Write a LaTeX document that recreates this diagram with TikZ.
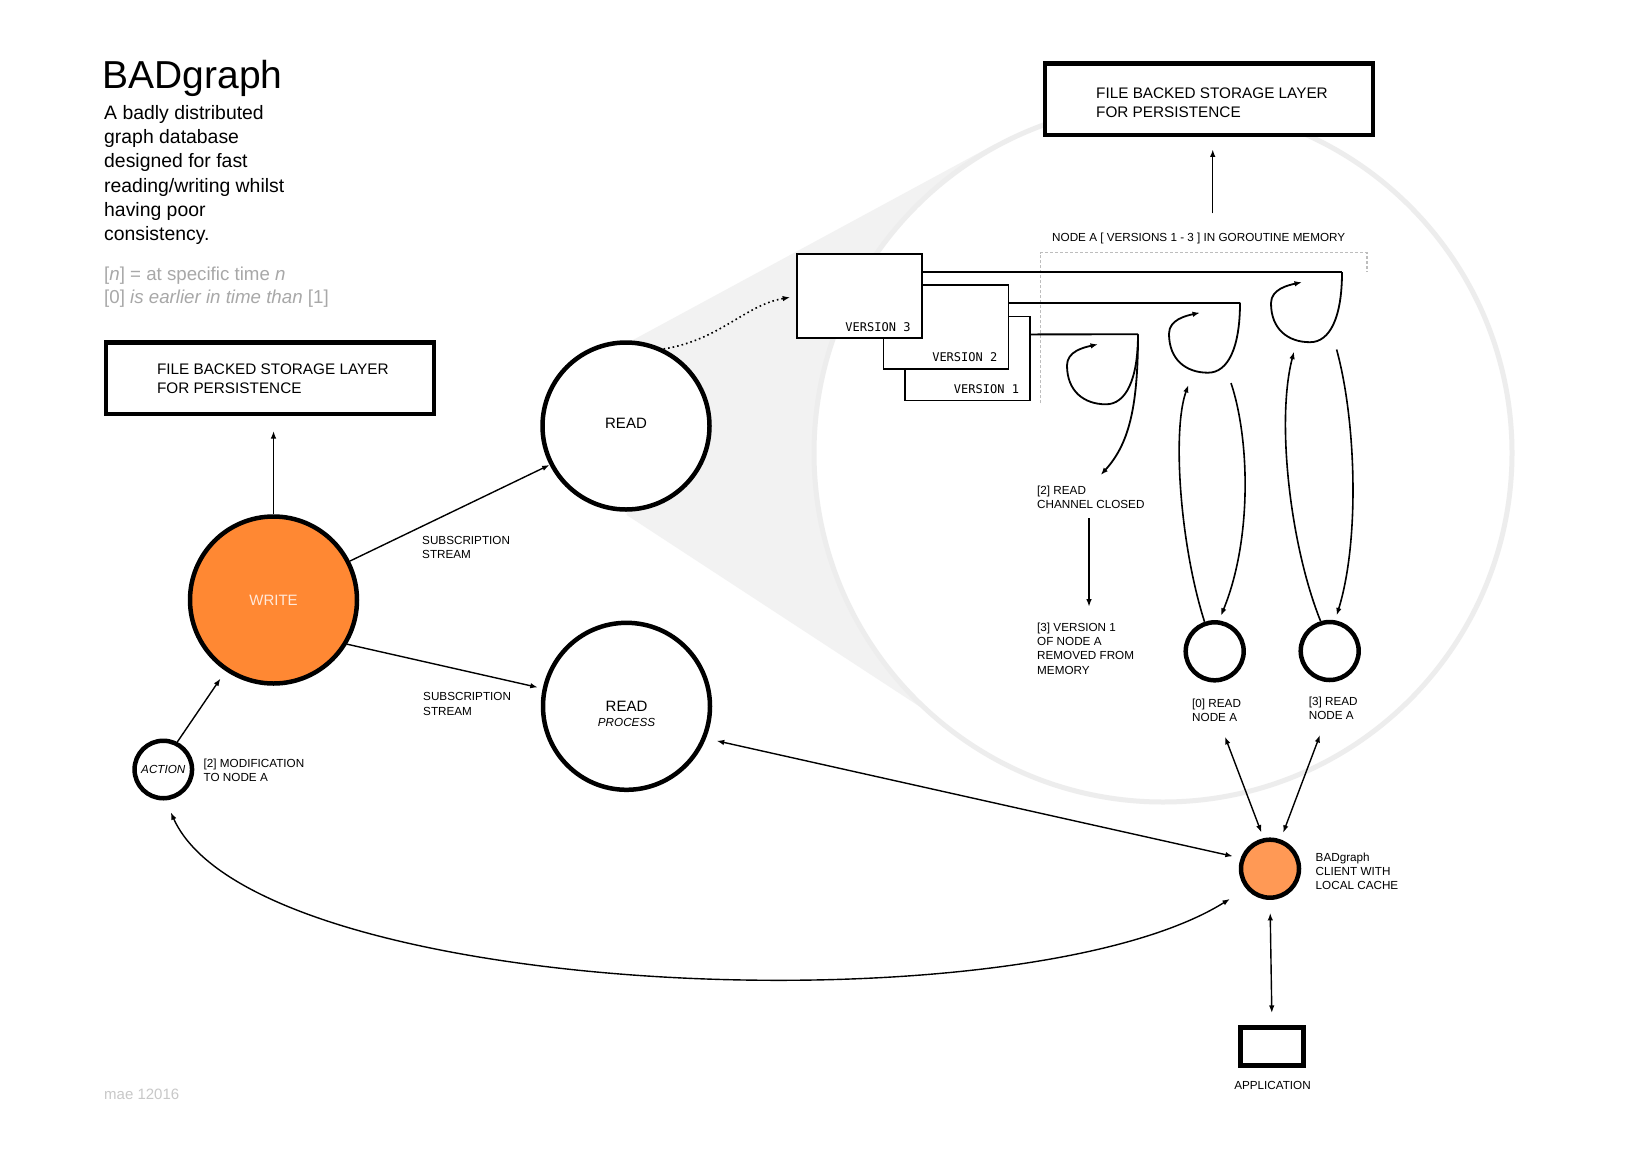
\documentclass[tikz,border=0pt]{standalone}
\usepackage{fontspec}
\setmainfont{Liberation Sans}
\newfontfamily\vermono{DejaVu Sans Mono}
\usetikzlibrary{arrows.meta}
\newcommand\fsz[2]{\fontsize{#1pt}{#2pt}\selectfont}
\definecolor{writeorange}{HTML}{FF8833}
\definecolor{clientorange}{HTML}{FF9955}
\definecolor{conegray}{HTML}{F2F2F2}
\definecolor{ringgray}{HTML}{EDEDED}
\definecolor{notegray}{HTML}{A8A8A8}
\definecolor{signgray}{HTML}{C8C8C8}
\definecolor{bracketgray}{HTML}{BDBDBD}
\definecolor{writetext}{HTML}{FFE9DA}

\begin{document}
\begin{tikzpicture}[x=1pt,y=-1pt,
  ah/.tip={Latex[length=7.5pt,width=5.5pt]},
  bigcirc/.style={circle,draw,line width=4.5pt,fill=white,minimum size=167pt,inner sep=0pt,font=\fsz{15}{18}},
  smallcirc/.style={circle,draw,line width=4.5pt,fill=white,minimum size=58pt,inner sep=0pt},
  storebox/.style={draw,line width=4.5pt,fill=white,minimum width=328pt,minimum height=71.5pt,inner sep=0pt},
  storetxt/.style={inner sep=0pt,anchor=north west,align=left,font=\fsz{15.3}{18.8}},
  verbox/.style={draw,line width=1.8pt,fill=white,minimum width=125pt,minimum height=84pt,inner sep=0pt,outer sep=0pt},
  verlbl/.style={inner sep=0pt,anchor=base east,font=\vermono\fsz{12}{14}},
  lbl/.style={inner sep=0pt,anchor=north west,align=left,font=\fsz{11.7}{14.3}},
  conn/.style={line width=1.4pt,-ah},
  biconn/.style={line width=1.4pt,ah-ah},
  thread/.style={line width=1.8pt},
  curl/.pic={\draw[thread,-ah] (0,0) .. controls (0,45) and (-12,70) .. (-32,70)
      .. controls (-54,70) and (-71,57) .. (-71,31)
      .. controls (-71,17) and (-54,13) .. (-40,10);}
]
\useasboundingbox (0,0) rectangle (1636,1157);
\fill[white] (0,0) rectangle (1636,1157);

% magnifying cone and the zoomed-in disk
\fill[conegray] (633,340) -- (995.7,143.8) -- (974,742.1) -- (626.7,515) -- cycle;
\node[circle,draw=ringgray,line width=5pt,fill=white,minimum size=698pt,inner sep=0pt] (zoomdisk) at (1163,453) {};

% title and notes
\node[anchor=base west,inner sep=0pt,font=\fsz{39}{46}] (title) at (102.3,88.3) {BADgraph};
\node[anchor=north west,inner sep=0pt,align=left,font=\fsz{19.4}{24.3}] (desc) at (104,105)
  {A badly distributed\\graph database\\designed for fast\\reading/writing whilst\\having poor\\consistency.};
\node[anchor=north west,inner sep=0pt,align=left,font=\fsz{18.7}{23.5},text=notegray] (legend) at (104,266.5)
  {[\textit{n}] = at specific time \textit{n}\\{}[0] \textit{is earlier in time than} [1]};
\node[anchor=base west,inner sep=0pt,font=\fsz{15}{18},text=signgray] (sign) at (104,1099) {mae 12016};

% storage layers
\node[storebox] (storeL) at (270.2,378) {};
\node[storetxt] (storeLtxt) at (156.8,363.8) {FILE BACKED STORAGE LAYER\\FOR PERSISTENCE};
\node[storebox] (storeR) at (1209.2,99.4) {};
\node[storetxt] (storeRtxt) at (1096,87.7) {FILE BACKED STORAGE LAYER\\FOR PERSISTENCE};

% main processes
\node[bigcirc,fill=writeorange,text=writetext] (write) at (273.5,600) {WRITE};
\node[bigcirc] (read) at (626,426) {};
\node[anchor=base,inner sep=0pt,font=\fsz{15}{18}] (readtxt) at (626,428) {READ};
\node[bigcirc] (rp) at (626.5,706.3) {};
\node[anchor=base,inner sep=0pt,font=\fsz{15}{18}] (rptxt) at (626.5,711.8) {READ};
\node[anchor=base,inner sep=0pt,font=\fsz{11.7}{14}\itshape] (rpsub) at (626.5,726.2) {PROCESS};
\node[circle,draw,line width=4.5pt,fill=white,minimum size=57.5pt,inner sep=0pt,font=\fsz{11.7}{14}\itshape] (action) at (163.3,769.5) {ACTION};

% goroutine memory bracket
\draw[bracketgray,line width=1.2pt,dash pattern=on 3pt off 2pt] (1040.7,403) -- (1040.7,252.7) -- (1367,252.7) -- (1367,272);
\node[lbl] (memlbl) at (1052,232.5) {NODE A [ VERSIONS 1 - 3 ] IN GOROUTINE MEMORY};

% version stack
\node[verbox] (v1) at (967.7,358.4) {};
\node[verbox] (v2) at (946,327) {};
\node[verbox] (v3) at (859.2,296.2) {};
\node[verlbl] (v1t) at ([shift={(-11,-7)}]v1.south east) {VERSION 1};
\node[verlbl] (v2t) at ([shift={(-11,-7.5)}]v2.south east) {VERSION 2};
\node[verlbl] (v3t) at ([shift={(-11,-7)}]v3.south east) {VERSION 3};

% channel corners
\coordinate (k1) at (1138,334.3);
\coordinate (k2) at (1240,302.7);
\coordinate (k3) at (1342,272.2);
\draw[thread] (v1.north east) ++(0,18) -- (k1);
\draw[thread] (v2.north east) ++(0,17.7) -- (k2);
\draw[thread] (v3.north east) ++(0,18) -- (k3);
\pic at (k1) {curl};
\pic at (k2) {curl};
\pic at (k3) {curl};

% read goroutines
\node[smallcirc] (c0) at (1214.7,651.3) {};
\node[smallcirc] (c3) at (1329.7,651) {};
\node[lbl] (r0lbl) at (1192,698.5) {[0] READ\\NODE A};
\node[lbl] (r3lbl) at (1308.6,696.5) {[3] READ\\NODE A};
\node[lbl] (rclbl) at (1037,485.5) {[2] READ\\CHANNEL CLOSED};
\node[lbl] (rmlbl) at (1037,622.5) {[3] VERSION 1\\OF NODE A\\REMOVED FROM\\MEMORY};

\coordinate (rcin) at (1100.7,475);
\draw[thread,-ah] (k1) .. controls (1138,410) and (1128,445) .. (rcin);
\coordinate (rcdn) at (1089,518.3);
\coordinate (rmup) at (1089,606.7);
\draw[conn] (rcdn) -- (rmup);

\coordinate (l2in) at (1188.4,385);
\coordinate (l2out) at (1231,383);
\coordinate (l3in) at (1294,351.6);
\coordinate (l3out) at (1336.6,349.5);
\draw[line width=1.6pt,-ah] (c0.109) .. controls (1180,545) and (1172,430) .. (l2in);
\draw[line width=1.6pt,-ah,shorten >=5pt] (l2out) .. controls (1250,440) and (1252,540) .. (c0.82);
\draw[line width=1.6pt,-ah] (c3.107) .. controls (1290,545) and (1276,420) .. (l3in);
\draw[line width=1.6pt,-ah,shorten >=5pt] (l3out) .. controls (1356,420) and (1360,540) .. (c3.80);

% client and application
\node[smallcirc,fill=clientorange] (client) at (1270,868.7) {};
\node[lbl] (clientlbl) at (1315.5,852.5) {BADgraph\\CLIENT WITH\\LOCAL CACHE};
\node[draw,line width=5pt,fill=white,minimum width=63pt,minimum height=38.3pt,inner sep=0pt] (app) at (1272,1046.6) {};
\node[inner sep=0pt,font=\fsz{11.7}{14}] (applbl) at (1272.5,1085.7) {APPLICATION};

% labels on the streams
\node[lbl] (subA) at (422,536.2) {SUBSCRIPTION\\STREAM};
\node[lbl] (subB) at (423,692.5) {SUBSCRIPTION\\STREAM};
\node[lbl] (modlbl) at (203.5,759) {[2] MODIFICATION\\TO NODE A};

% connectors
\draw[conn,shorten >=15pt] (write.north) -- (write.north |- storeL.south);
\coordinate (memup) at (1212.7,213.3);
\draw[conn,shorten >=12pt] (memup) -- (memup |- storeR.south);
\draw[conn] (write.27) -- (read.207);
\draw[conn,shorten >=5pt] (write.-31) -- (rp.168);
\draw[conn,shorten >=9pt] (action.63) -- (write.236);
\draw[line width=1.6pt,dash pattern=on 1.6pt off 3pt,-ah,shorten >=6.6pt] (read.64) .. controls (720,340) and (745,305) .. (v3.west);
\draw[biconn,shorten <=8pt,shorten >=11pt] (client.160) -- (rp.-22);
\draw[biconn,shorten <=19pt,shorten >=13pt] (client.220) .. controls (1020,1030) and (255,1000) .. (action.-86);
\coordinate (r0dn) at (1225,736.7);
\coordinate (r3dn) at (1320,735);
\draw[biconn,shorten >=6pt] (r0dn) -- (client.102);
\draw[biconn,shorten >=7pt] (r3dn) -- (client.70);
\draw[biconn,shorten <=13pt,shorten >=12pt] (client.south) -- (app.north);
\end{tikzpicture}
\end{document}
